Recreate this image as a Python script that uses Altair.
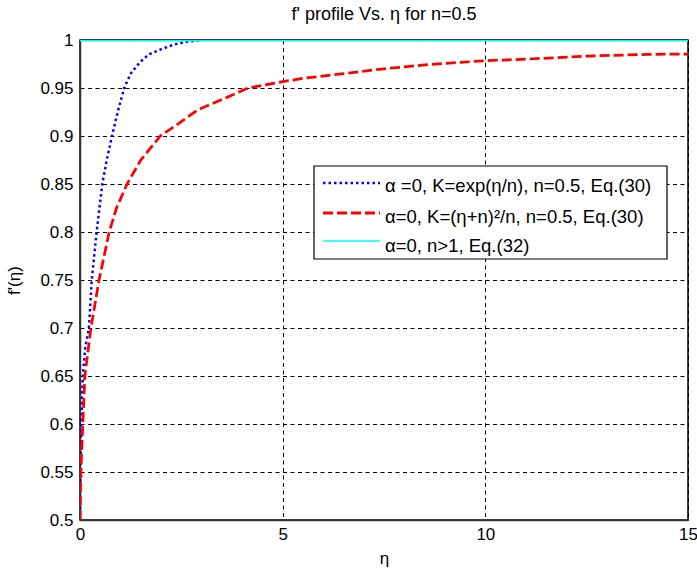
import altair as alt
import pandas as pd

# --- data ---
eta_exp = [0, 0.01, 0.03, 0.07, 0.13, 0.22, 0.29, 0.41, 0.55, 0.66, 0.79, 0.93,
           1.09, 1.25, 1.48, 1.7, 1.98, 2.3, 2.6, 3.0]
fp_exp = [0.5, 0.55, 0.6, 0.65, 0.68, 0.7, 0.75, 0.8, 0.85, 0.875, 0.9, 0.925,
          0.95, 0.965, 0.977, 0.985, 0.99, 0.995, 0.998, 1.0]

eta_pow = [0, 0.01, 0.03, 0.07, 0.12, 0.27, 0.47, 0.72, 0.9, 1.16, 1.5, 1.98, 2.5,
           2.9, 3.5, 4.15, 5.0, 5.5, 6.5, 7.5, 8.5, 10, 11, 12.5, 14, 15]
fp_pow = [0.5, 0.53, 0.56, 0.6, 0.65, 0.7, 0.75, 0.8, 0.825, 0.85, 0.875, 0.9, 0.915,
          0.927, 0.938, 0.95, 0.9566, 0.96, 0.965, 0.970, 0.974, 0.9785, 0.98, 0.9833,
          0.985, 0.9854]

eta_const = [0, 15]
fp_const = [1.0, 1.0]

series = ["α =0, K=exp(η/n), n=0.5, Eq.(30)",
          "α=0, K=(η+n)²/n, n=0.5, Eq.(30)",
          "α=0, n>1, Eq.(32)"]
colors = ["#0000FF", "#FF0000", "#00FFFF"]
dashes = [[2.5, 3], [10, 4], [1, 0]]
widths = [2.5, 3, 1.3]

x_ticks = [0, 5, 10, 15]
y_ticks = [0.5, 0.55, 0.6, 0.65, 0.7, 0.75, 0.8, 0.85, 0.9, 0.95, 1.0]

rows = []
for i, (xs, ys) in enumerate([(eta_exp, fp_exp), (eta_pow, fp_pow), (eta_const, fp_const)]):
    for k, (a, b) in enumerate(zip(xs, ys)):
        rows.append({"eta": a, "fp": b, "series": series[i], "order": k})
df = pd.DataFrame(rows)

FONT = "Liberation Sans"

axis_common = dict(
    grid=True, gridColor="black", gridDash=[4, 3.5], gridWidth=1,
    domainColor="#333333", domainWidth=1.5, tickSize=0, labelFlush=False,
    labelFont=FONT, labelFontSize=17, labelColor="black",
    titleFont=FONT, titleFontSize=17, titleColor="black", titleFontWeight="normal",
)

lines = alt.Chart(df).mark_line(clip=True).encode(
    x=alt.X("eta:Q", scale=alt.Scale(domain=[0, 15], nice=False),
            axis=alt.Axis(values=x_ticks, title="η", format="d", labelPadding=6,
                          titlePadding=8, **axis_common)),
    y=alt.Y("fp:Q", scale=alt.Scale(domain=[0.5, 1.0], nice=False, zero=False),
            axis=alt.Axis(values=y_ticks, title="f'(η)", format=".2~f", labelPadding=7,
                          titleX=-57, titleY=240, titleAngle=-90, **axis_common)),
    color=alt.Color("series:N", scale=alt.Scale(domain=series, range=colors), legend=None),
    strokeDash=alt.StrokeDash("series:N", scale=alt.Scale(domain=series, range=dashes),
                              legend=None),
    strokeWidth=alt.StrokeWidth("series:N", scale=alt.Scale(domain=series, range=widths),
                                legend=None),
    order="order:Q",
)

# legend drawn as a boxed key (positions in plot-area pixels)
box = alt.Chart(pd.DataFrame({"label": ["legend"]})).mark_rect(
    fill="white", stroke="black", strokeWidth=1.2
).encode(x=alt.value(234), x2=alt.value(587), y=alt.value(126), y2=alt.value(219))

layers = [lines, box]
sym_y = [143, 173, 201]
txt_y = [146, 177, 206]
for i in range(3):
    d = pd.DataFrame({"label": [series[i]]})
    layers.append(
        alt.Chart(d).mark_rule(color=colors[i], strokeDash=dashes[i],
                               strokeWidth=widths[i]).encode(
            x=alt.value(243), x2=alt.value(300), y=alt.value(sym_y[i]))
    )
    layers.append(
        alt.Chart(d).mark_text(align="left", baseline="middle", font=FONT,
                               fontSize=18.5, color="black").encode(
            x=alt.value(305), y=alt.value(txt_y[i]), text="label:N")
    )

chart = alt.layer(*layers).properties(
    width=608, height=480,
    title=alt.TitleParams("f' profile Vs. η for n=0.5", font=FONT, fontSize=18,
                          fontWeight="normal", color="black", offset=7),
    autosize=alt.AutoSizeParams(type="none"),
    padding={"left": 80, "top": 40, "right": 9, "bottom": 57},
    background="white",
).configure_view(
    stroke="black", strokeWidth=1.5
).configure_title(
    font=FONT, fontSize=18, fontWeight="normal", color="black", offset=7
)

chart.save("out.html", embed_options={"renderer": "svg", "actions": False})
